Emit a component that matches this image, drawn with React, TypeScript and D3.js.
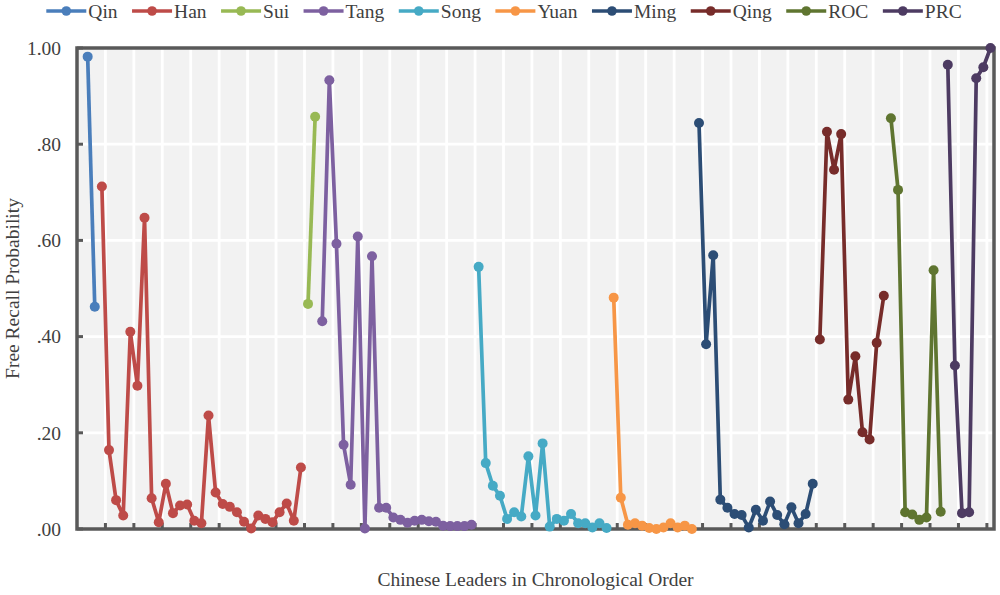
import React, { useRef, useEffect } from "react";
import * as d3 from "d3";

const chart_width = 1000;
const chart_height = 595;
const margin = { left: 77, right: 6, top: 48, bottom: 66 };

// dynasties in legend order
const dynasties = ["Qin", "Han", "Sui", "Tang", "Song", "Yuan", "Ming", "Qing", "ROC", "PRC"];
const colors = ["#4A7EBB", "#BE4B48", "#98B954", "#7D60A0", "#46AAC5", "#F79646", "#2C4D75", "#772C2A", "#5F7530", "#4D3B62"];

// free recall probability per leader, chronological
const qin = [0.982, 0.462];
const han = [
  0.712, 0.164, 0.06, 0.028, 0.41, 0.298, 0.647, 0.064, 0.014, 0.094, 0.033, 0.049, 0.051, 0.017, 0.012,
  0.236, 0.076, 0.052, 0.046, 0.035, 0.015, 0.001, 0.028, 0.021, 0.014, 0.035, 0.053, 0.017, 0.128,
];
const sui = [0.468, 0.857];
const tang = [
  0.432, 0.933, 0.593, 0.175, 0.092, 0.608, 0.001, 0.567, 0.044, 0.044, 0.024, 0.019, 0.013, 0.017, 0.019,
  0.016, 0.015, 0.007, 0.006, 0.006, 0.006, 0.009,
];
const song = [
  0.545, 0.137, 0.09, 0.069, 0.021, 0.035, 0.026, 0.151, 0.028, 0.178, 0.005, 0.021, 0.017, 0.031, 0.012,
  0.012, 0.003, 0.012, 0.002,
];
const yuan = [0.481, 0.065, 0.009, 0.012, 0.007, 0.002, 0.0, 0.003, 0.012, 0.003, 0.007, 0.0];
const ming = [
  0.844, 0.384, 0.569, 0.061, 0.044, 0.031, 0.029, 0.003, 0.04, 0.017, 0.057, 0.029, 0.01, 0.045, 0.012,
  0.031, 0.094,
];
const qing = [0.394, 0.826, 0.747, 0.821, 0.269, 0.359, 0.201, 0.186, 0.387, 0.485];
const roc = [0.854, 0.705, 0.035, 0.03, 0.019, 0.024, 0.538, 0.036];
const prc = [0.965, 0.34, 0.033, 0.035, 0.937, 0.96, 1.0];

const seriesValues = [qin, han, sui, tang, song, yuan, ming, qing, roc, prc];
const yTicks = [0, 0.2, 0.4, 0.6, 0.8, 1.0];

const font = "'Liberation Serif', 'Times New Roman', serif";
const textColor = "#404040";

const App: React.FC = () => {
  const d3Container = useRef<SVGSVGElement | null>(null);

  useEffect(() => {
    if (!d3Container.current) return;
    const svg = d3.select(d3Container.current);
    svg.selectAll("*").remove();

    // one empty category before the first leader
    let start = 1;
    const series = seriesValues.map((vals, k) => {
      const pts = vals.map((v, j) => ({ i: start + j, v }));
      start += vals.length;
      return { name: dynasties[k], color: colors[k], pts };
    });
    const nCats = start;

    const x_scale = d3
      .scaleBand<number>()
      .domain(d3.range(nCats))
      .range([margin.left, chart_width - margin.right])
      .paddingInner(0)
      .paddingOuter(0);
    const bw = x_scale.bandwidth();
    const cx = (i: number) => (x_scale(i) as number) + bw / 2;

    const y_scale = d3
      .scaleLinear()
      .domain([0, 1])
      .range([chart_height - margin.bottom, margin.top]);

    const x0 = margin.left;
    const x1 = chart_width - margin.right;
    const y0 = chart_height - margin.bottom;
    const y1 = margin.top;

    // plot background
    svg
      .append("rect")
      .attr("x", x0)
      .attr("y", y1)
      .attr("width", x1 - x0)
      .attr("height", y0 - y1)
      .attr("fill", "#F2F2F2");

    // vertical gridlines every 4 categories
    const gridCats = d3.range(0, nCats, 4).filter((i) => i > 0);
    svg
      .append("g")
      .selectAll("line")
      .data(gridCats)
      .enter()
      .append("line")
      .attr("x1", (d) => x_scale(d) as number)
      .attr("x2", (d) => x_scale(d) as number)
      .attr("y1", y1)
      .attr("y2", y0)
      .attr("stroke", "#ffffff")
      .attr("stroke-width", 2.8);

    // horizontal gridlines
    svg
      .append("g")
      .selectAll("line")
      .data(yTicks.filter((t) => t > 0 && t < 1))
      .enter()
      .append("line")
      .attr("x1", x0)
      .attr("x2", x1)
      .attr("y1", (d) => y_scale(d))
      .attr("y2", (d) => y_scale(d))
      .attr("stroke", "#ffffff")
      .attr("stroke-width", 2.8);

    // tick marks (inside)
    svg
      .append("g")
      .selectAll("line")
      .data(yTicks)
      .enter()
      .append("line")
      .attr("x1", x0)
      .attr("x2", x0 + 6)
      .attr("y1", (d) => y_scale(d))
      .attr("y2", (d) => y_scale(d))
      .attr("stroke", "#595959")
      .attr("stroke-width", 3);

    svg
      .append("g")
      .selectAll("line")
      .data(gridCats)
      .enter()
      .append("line")
      .attr("x1", (d) => x_scale(d) as number)
      .attr("x2", (d) => x_scale(d) as number)
      .attr("y1", y0)
      .attr("y2", y0 - 6)
      .attr("stroke", "#595959")
      .attr("stroke-width", 3);

    // frame
    svg
      .append("rect")
      .attr("x", x0)
      .attr("y", y1)
      .attr("width", x1 - x0)
      .attr("height", y0 - y1)
      .attr("fill", "none")
      .attr("stroke", "#595959")
      .attr("stroke-width", 3.5);

    // y labels
    svg
      .append("g")
      .selectAll("text")
      .data(yTicks)
      .enter()
      .append("text")
      .attr("x", 61)
      .attr("y", (d) => y_scale(d))
      .attr("dy", "0.35em")
      .attr("text-anchor", "end")
      .attr("font-family", font)
      .attr("font-size", 19.5)
      .attr("fill", textColor)
      .text((d) => (d === 1 ? "1.00" : d3.format(".2f")(d).replace(/^0/, "")));

    // axis titles
    svg
      .append("text")
      .attr("transform", `translate(19,${(y0 + y1) / 2}) rotate(-90)`)
      .attr("text-anchor", "middle")
      .attr("font-family", font)
      .attr("font-size", 19.5)
      .attr("fill", textColor)
      .text("Free Recall Probability");

    svg
      .append("text")
      .attr("x", (x0 + x1) / 2)
      .attr("y", 586)
      .attr("text-anchor", "middle")
      .attr("font-family", font)
      .attr("font-size", 19.5)
      .attr("fill", textColor)
      .text("Chinese Leaders in Chronological Order");

    // series
    const line = d3
      .line<{ i: number; v: number }>()
      .x((d) => cx(d.i))
      .y((d) => y_scale(d.v));

    series.forEach((s) => {
      const g = svg.append("g");
      g.append("path")
        .attr("d", line(s.pts) as string)
        .attr("fill", "none")
        .attr("stroke", s.color)
        .attr("stroke-width", 3.7)
        .attr("stroke-linejoin", "round");
      g.selectAll("circle")
        .data(s.pts)
        .enter()
        .append("circle")
        .attr("cx", (d) => cx(d.i))
        .attr("cy", (d) => y_scale(d.v))
        .attr("r", 5)
        .attr("fill", s.color);
    });

    // legend, laid out from measured text widths
    const legend = svg.append("g");
    const items = series.map((s) => {
      const it = legend.append("g");
      it.append("line")
        .attr("x1", 0)
        .attr("x2", 40)
        .attr("y1", 0)
        .attr("y2", 0)
        .attr("stroke", s.color)
        .attr("stroke-width", 3.7);
      it.append("circle").attr("cx", 20).attr("cy", 0).attr("r", 4.8).attr("fill", s.color);
      const t = it
        .append("text")
        .attr("x", 42)
        .attr("y", 0)
        .attr("dy", "0.35em")
        .attr("font-family", font)
        .attr("font-size", 19.5)
        .attr("fill", textColor)
        .text(s.name);
      const w = 42 + (t.node() as SVGTextElement).getComputedTextLength();
      return { it, w };
    });
    const gap = 14.5;
    const total = d3.sum(items, (d) => d.w) + gap * (items.length - 1);
    let pos = 504 - total / 2;
    items.forEach((d) => {
      d.it.attr("transform", `translate(${pos},11)`);
      pos += d.w + gap;
    });
  }, []);

  return (
    <svg
      ref={d3Container}
      width={chart_width}
      height={chart_height}
      style={{ position: "absolute", left: 0, top: 0, background: "#ffffff" }}
    />
  );
};

export default App;
